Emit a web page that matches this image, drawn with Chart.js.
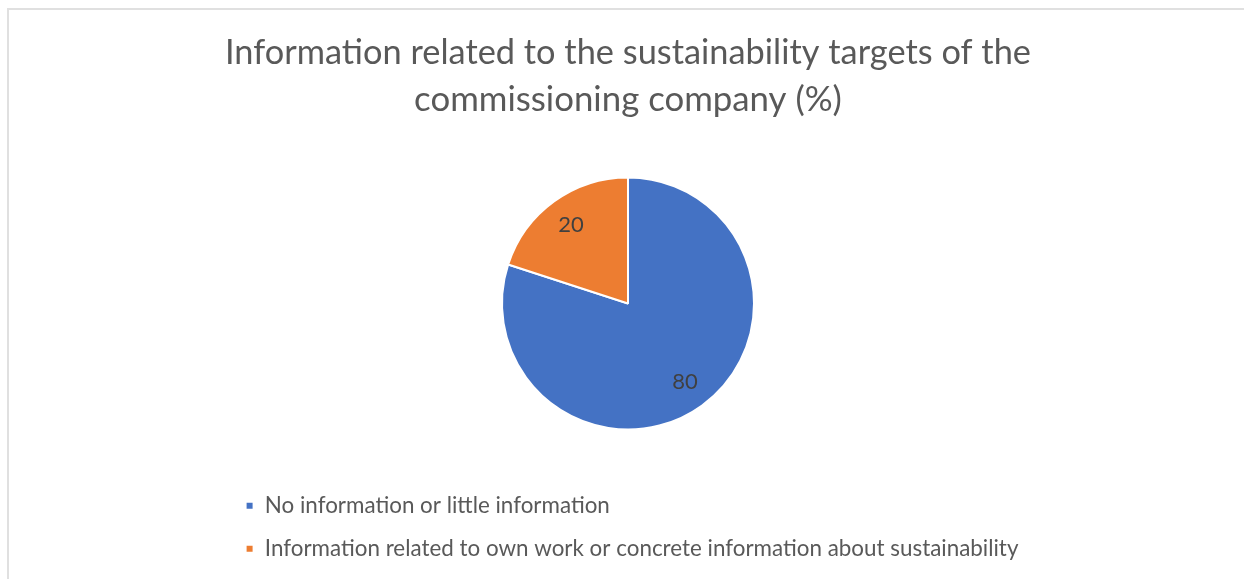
<!DOCTYPE html>
<html>
<head>
<meta charset="utf-8">
<script src="https://cdn.jsdelivr.net/npm/chart.js@4/dist/chart.umd.min.js"></script>
<style>
  html, body { margin: 0; padding: 0; background: #fff; overflow: hidden; }
  #frame { position: absolute; left: 7px; top: 8px; width: 1300px; height: 700px; border: 2px solid #e0e0e0; }
  #wrap { position: absolute; left: 0; top: 0; width: 1244px; height: 579px; }
</style>
</head>
<body>
<div id="frame"></div>
<div id="wrap"><canvas id="pie"></canvas></div>
<script>
// chart data
const titleLines = ['Information related to the sustainability targets of the', 'commissioning company (%)'];
const categories = ['No information or little information', 'Information related to own work or concrete information about sustainability'];
const values = [80, 20];
const sliceColors = ['#4472C4', '#ED7D31'];

const FONT = 'Lato, "Open Sans", sans-serif';

// draws the numbers inside each slice
const sliceLabels = {
  id: 'sliceLabels',
  afterDatasetsDraw(chart) {
    const ctx = chart.ctx;
    const meta = chart.getDatasetMeta(0);
    ctx.save();
    ctx.font = '22px ' + FONT;
    ctx.fillStyle = '#404040';
    ctx.textAlign = 'center';
    ctx.textBaseline = 'middle';
    meta.data.forEach((arc, i) => {
      const mid = (arc.startAngle + arc.endAngle) / 2;
      const r = arc.outerRadius * 0.77;
      ctx.fillText(String(chart.data.datasets[0].data[i]), arc.x + Math.cos(mid) * r, arc.y + Math.sin(mid) * r);
    });
    ctx.restore();
  }
};

const ctx = document.getElementById('pie').getContext('2d');
new Chart(ctx, {
  type: 'pie',
  data: {
    labels: categories,
    datasets: [{
      data: values,
      backgroundColor: sliceColors,
      borderColor: '#ffffff',
      borderWidth: 2,
      radius: 126
    }]
  },
  options: {
    responsive: true,
    maintainAspectRatio: false,
    animation: false,
    layout: { padding: { left: 225, right: 213, top: 0, bottom: 9 } },
    plugins: {
      title: {
        display: true,
        text: titleLines,
        color: '#595959',
        font: { family: FONT, size: 34.8, weight: 'normal', lineHeight: 47 / 34.8 },
        padding: { top: 29.5, bottom: 9.5 }
      },
      legend: {
        position: 'bottom',
        align: 'start',
        labels: {
          color: '#595959',
          font: { family: FONT, size: 22.4 },
          boxWidth: 8,
          boxHeight: 8,
          padding: 20.6
        }
      },
      tooltip: { enabled: false }
    }
  },
  plugins: [sliceLabels]
});
</script>
</body>
</html>
